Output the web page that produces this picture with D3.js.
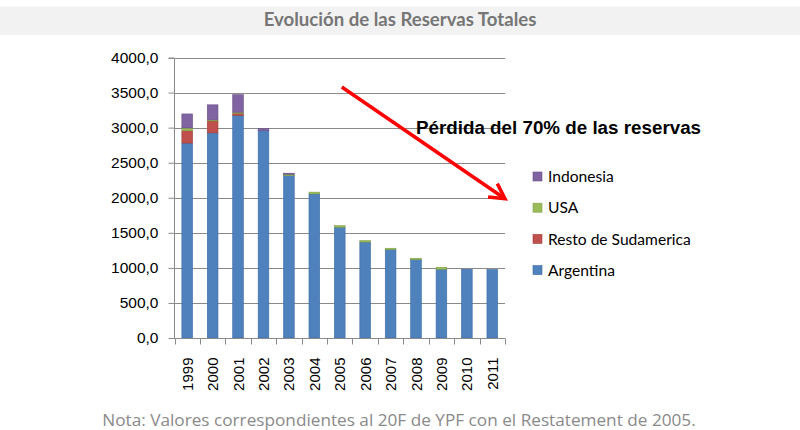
<!DOCTYPE html>
<html>
<head>
<meta charset="utf-8">
<script src="https://cdn.jsdelivr.net/npm/d3@7"></script>
<style>
  html, body { margin: 0; padding: 0; background: #fff; }
  svg { display: block; }
</style>
</head>
<body>
<svg id="chart" width="800" height="430"></svg>
<script>
// ---- Data ----
const years = ["1999","2000","2001","2002","2003","2004","2005","2006","2007","2008","2009","2010","2011"];
const argentina = [2780, 2925, 3175, 2955, 2315, 2055, 1580, 1368, 1260, 1117, 980, 980, 977];
const restoSudamerica = [175, 170, 30, 0, 0, 0, 0, 0, 0, 0, 0, 0, 0];
const usa = [40, 15, 15, 0, 20, 25, 22, 20, 20, 20, 28, 0, 0];
const indonesia = [200, 215, 250, 30, 15, 0, 0, 0, 0, 0, 0, 0, 0];
const seriesNames = ["Argentina", "Resto de Sudamerica", "USA", "Indonesia"];
const seriesColors = ["#4F81BD", "#C0504D", "#9BBB59", "#8064A2"];
const seriesBorders = ["#3A6AA6", "#A23C39", "#7FA043", "#674E88"];
const yTicks = [0, 500, 1000, 1500, 2000, 2500, 3000, 3500, 4000];
const titleText = "Evolución de las Reservas Totales";
const noteText = "Nota: Valores correspondientes al 20F de YPF con el Restatement de 2005.";
const annotationText = "Pérdida del 70% de las reservas";

// ---- Build table ----
const table = years.map((y, i) => ({
  year: y,
  "Argentina": argentina[i],
  "Resto de Sudamerica": restoSudamerica[i],
  "USA": usa[i],
  "Indonesia": indonesia[i]
}));
const stacked = d3.stack().keys(seriesNames)(table);

const svg = d3.select("#chart");

// Title band
svg.append("rect").attr("x", 0).attr("y", 6.5).attr("width", 800).attr("height", 28.5).attr("fill", "#f2f2f2");
svg.append("text").attr("x", 400).attr("y", 26).attr("text-anchor", "middle")
  .attr("font-family", "Lato, 'Open Sans', sans-serif").attr("font-weight", "bold")
  .attr("font-size", 18.6).attr("fill", "#767676").text(titleText);

// Scales
const x = d3.scaleBand().domain(years).range([174.5, 505]).paddingInner(0.58).paddingOuter(0.29);
const y = d3.scaleLinear().domain([0, 4000]).range([338, 57.5]);

// Gridlines
svg.append("g").selectAll("line").data(yTicks.filter(d => d > 0)).join("line")
  .attr("x1", 174.5).attr("x2", 505)
  .attr("y1", d => Math.round(y(d)) + 0.5).attr("y2", d => Math.round(y(d)) + 0.5)
  .attr("stroke", "#8a8a8a").attr("stroke-width", 1);

// Bars
const layer = svg.append("g").selectAll("g").data(stacked).join("g")
  .attr("fill", (d, i) => seriesColors[i]);
layer.selectAll("rect").data(d => d.filter(p => p[1] - p[0] > 0)).join("rect")
  .attr("x", d => x(d.data.year))
  .attr("width", x.bandwidth())
  .attr("y", d => y(d[1]))
  .attr("height", d => y(d[0]) - y(d[1]));
layer.each(function(d, i) {
  d3.select(this).selectAll("rect").attr("stroke", seriesBorders[i]).attr("stroke-width", 0.6);
});

// Y axis
const yAxis = d3.axisLeft(y).tickValues(yTicks).tickSize(6).tickPadding(10)
  .tickFormat(d => d3.format(".1f")(d).replace(".", ","));
const gy = svg.append("g").attr("transform", "translate(174.5,0)").call(yAxis);
gy.select(".domain").attr("stroke", "#8a8a8a").attr("d", "M-6," + (Math.round(y(4000)) + 0.5) + "H0V" + (Math.round(y(0)) + 0.5));
gy.selectAll(".tick line").attr("stroke", "#8a8a8a");
gy.selectAll(".tick text").attr("font-family", "'Liberation Sans', Arial, sans-serif")
  .attr("font-size", 15.5).attr("fill", "#000");

// X axis
const xAxis = d3.axisBottom(x).tickSize(0).tickPadding(0);
const gx = svg.append("g").attr("transform", "translate(0," + (Math.round(y(0)) + 0.5) + ")").call(xAxis);
gx.select(".domain").attr("stroke", "#8a8a8a").attr("d", "M174.5,0H505");
gx.selectAll(".tick text")
  .attr("font-family", "'Liberation Sans', Arial, sans-serif").attr("font-size", 15).attr("fill", "#000")
  .attr("text-anchor", "end").attr("dy", null)
  .attr("transform", "translate(5.5,19) rotate(-90)");
// boundary tick marks
const bounds = years.map(yr => x(yr) - x.step() * x.paddingInner() / 2).concat([505]);
gx.append("g").selectAll("line").data(bounds).join("line")
  .attr("x1", d => Math.round(d) + 0.5).attr("x2", d => Math.round(d) + 0.5)
  .attr("y1", 0).attr("y2", 6).attr("stroke", "#8a8a8a");

// Legend
const legendOrder = [3, 2, 1, 0];
const lg = svg.append("g").selectAll("g").data(legendOrder).join("g")
  .attr("transform", (d, i) => "translate(533," + (176.5 + i * 31.2) + ")");
lg.append("rect").attr("x", 0).attr("y", -4.5).attr("width", 9).attr("height", 9)
  .attr("fill", d => seriesColors[d]).attr("stroke", d => seriesBorders[d]).attr("stroke-width", 0.6);
lg.append("text").attr("x", 15).attr("y", 0).attr("dy", "0.36em")
  .attr("font-family", "Lato, 'Open Sans', sans-serif").attr("font-size", 15.6).attr("fill", "#000")
  .text(d => seriesNames[d]);

// Annotation arrow (defined in data space)
const arrowStart = [x("2005") + x.bandwidth() / 2 + 2, 3580];
const arrowEnd = [505, 1985];
const sx = arrowStart[0], sy = y(arrowStart[1]);
const ex = arrowEnd[0], ey = y(arrowEnd[1]);
svg.append("line").attr("x1", sx).attr("y1", sy).attr("x2", ex).attr("y2", ey)
  .attr("stroke", "#ff0000").attr("stroke-width", 3.5).attr("stroke-linecap", "butt");
const ang = Math.atan2(ey - sy, ex - sx);
const headLen = 17, headAng = 0.5;
const h1 = [ex - headLen * Math.cos(ang - headAng), ey - headLen * Math.sin(ang - headAng)];
const h2 = [ex - headLen * Math.cos(ang + headAng), ey - headLen * Math.sin(ang + headAng)];
svg.append("path").attr("d", "M" + h1 + "L" + [ex, ey] + "L" + h2)
  .attr("fill", "none").attr("stroke", "#ff0000").attr("stroke-width", 3.5).attr("stroke-linejoin", "miter");

// Annotation text
svg.append("text").attr("x", 416).attr("y", 133.5)
  .attr("font-family", "'Liberation Sans', Arial, sans-serif").attr("font-weight", "bold")
  .attr("font-size", 18.8).attr("fill", "#000").text(annotationText);

// Footnote
svg.append("text").attr("x", 399).attr("y", 426).attr("text-anchor", "middle")
  .attr("font-family", "'Open Sans', Lato, sans-serif").attr("font-size", 17.2).attr("fill", "#8a8a8a")
  .text(noteText);
</script>
</body>
</html>
